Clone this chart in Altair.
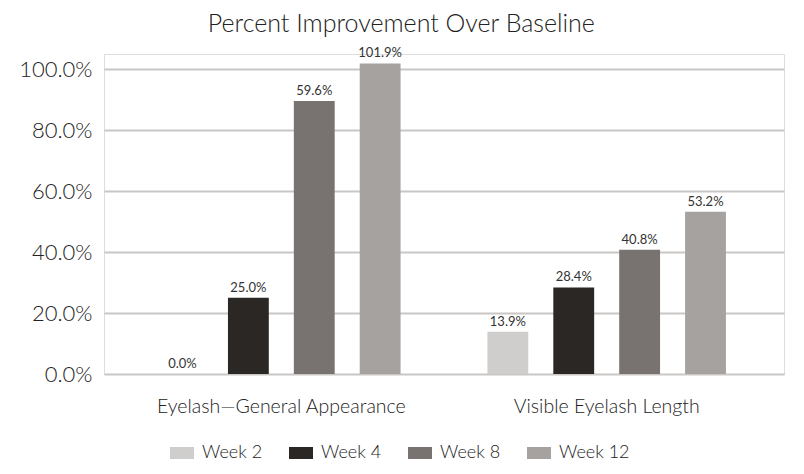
import altair as alt
import pandas as pd

categories = ["Eyelash\u2014General Appearance", "Visible Eyelash Length"]
weeks = ["Week 2", "Week 4", "Week 8", "Week 12"]
# bar heights as drawn (percent)
heights_general = [0.0, 25.0, 89.6, 101.9]
heights_length = [13.9, 28.4, 40.8, 53.2]
# printed labels
labels_general = ["0.0%", "25.0%", "59.6%", "101.9%"]
labels_length = ["13.9%", "28.4%", "40.8%", "53.2%"]
colors = ["#d0cecd", "#2b2725", "#787371", "#a5a2a0"]

rows = []
for cat, hs, ls in [(categories[0], heights_general, labels_general),
                    (categories[1], heights_length, labels_length)]:
    for w, h, l in zip(weeks, hs, ls):
        rows.append({"category": cat, "week": w, "value": h, "label": l})
df = pd.DataFrame(rows)

FONT = "Lato"

x = alt.X("category:N", sort=categories, title=None,
          scale=alt.Scale(paddingInner=0.19, paddingOuter=0.14),
          axis=alt.Axis(labelAngle=0, labelFontSize=19.5, labelColor="#222", labelLimit=0,
                        labelFontWeight=300,
                        labelPadding=23, ticks=False, domain=False, labelFont=FONT))
xo = alt.XOffset("week:N", sort=weeks, scale=alt.Scale(paddingInner=0.38, paddingOuter=0.19))
y = alt.Y("value:Q", title=None,
          scale=alt.Scale(domain=[0, 105], nice=False),
          axis=alt.Axis(values=[0, 20, 40, 60, 80, 100], labelExpr="format(datum.value, '.1f') + '%'",
                        labelFontSize=22, labelColor="#222", labelPadding=12, ticks=False,
                        labelFontWeight=300,
                        domain=False, gridColor="#c9c7c6", gridWidth=2, labelFont=FONT))

bars = alt.Chart(df).mark_bar().encode(
    x=x, xOffset=xo, y=y,
    color=alt.Color("week:N", sort=weeks, title=None,
                    scale=alt.Scale(domain=weeks, range=colors),
                    legend=alt.Legend(orient="none", legendX=66, legendY=387,
                                      direction="horizontal",
                                      symbolType="M-1,-0.5H1V0.5H-1Z", symbolSize=576,
                                      symbolStrokeWidth=0, labelFontSize=18, labelColor="#222",
                                      labelFontWeight=300,
                                      labelFont=FONT, columnPadding=26, labelOffset=8)),
)

text = alt.Chart(df).mark_text(dy=-10, fontSize=13, color="#333", font=FONT).encode(
    x=x, xOffset=xo, y=y, text="label:N"
)

chart = (bars + text).properties(
    width=680, height=320,
    title=alt.Title("Percent Improvement Over Baseline", fontSize=25, color="#222",
                    font=FONT, fontWeight=300, offset=10, frame="bounds"),
).configure_view(stroke=None).configure(padding={"left": 10, "right": 5, "top": 4, "bottom": 0})

chart.save("out.html", embed_options={"renderer": "svg", "actions": False})
